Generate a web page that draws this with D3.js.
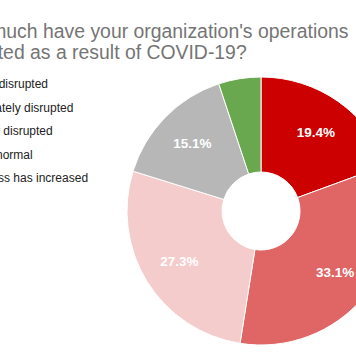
<!DOCTYPE html>
<html>
<head>
<meta charset="utf-8">
<script src="https://cdn.jsdelivr.net/npm/d3@7"></script>
<style>
  html, body { margin: 0; padding: 0; background: #fff; overflow: hidden; }
  svg { display: block; font-family: Arial, "Liberation Sans", sans-serif; }
</style>
</head>
<body>
<svg id="chart" width="356" height="364"></svg>
<script>
// ---- data ----
const titleLines = ["How much have your organization's operations", "impacted as a result of COVID-19?"];
const categories = ["Totally disrupted", "Moderately disrupted", "Slightly disrupted", "About normal", "Business has increased"];
const values = [19.4, 33.1, 27.3, 15.1, 5.1];
const colors = ["#cc0000", "#e06666", "#f4cccc", "#b7b7b7", "#6aa84f"];

// ---- layout ----
const W = 356, H = 364;
const cx = 261, cy = 211, outerR = 134, innerR = 39, labelR = 96;
const svg = d3.select("#chart");
svg.append("rect").attr("width", W).attr("height", H).attr("fill", "#fff");

// title (left aligned, partly outside the view as in the reference)
const titleX = -54;
const title = svg.append("text")
  .attr("x", titleX).attr("y", 38.3)
  .attr("fill", "#757575").attr("font-size", 19.4);
titleLines.forEach((t, i) => {
  title.append("tspan").attr("x", titleX).attr("y", 38.3 + i * 21).text(t);
});

// legend
const legendY = d3.scalePoint().domain(categories).range([88, 182]);
const legend = svg.append("g");
legend.selectAll("circle").data(categories).join("circle")
  .attr("cx", -44).attr("cy", d => legendY(d) - 4).attr("r", 5)
  .attr("fill", (d, i) => colors[i]);
legend.selectAll("text").data(categories).join("text")
  .attr("x", -38.7).attr("y", d => legendY(d))
  .attr("font-size", 12).attr("fill", "#222")
  .text(d => d);

// pie
const data = categories.map((c, i) => ({ cat: c, value: values[i], color: colors[i] }));
const pie = d3.pie().value(d => d.value).sort(null);
const arcs = pie(data);
const arc = d3.arc().innerRadius(innerR).outerRadius(outerR);
const labelArc = d3.arc().innerRadius(labelR).outerRadius(labelR);
const g = svg.append("g").attr("transform", `translate(${cx},${cy})`);
g.selectAll("path").data(arcs).join("path")
  .attr("d", arc)
  .attr("fill", d => d.data.color)
  .attr("stroke", "#fff").attr("stroke-width", 1);

const total = d3.sum(values);
g.selectAll("text").data(arcs.filter(d => d.data.value / total >= 0.08)).join("text")
  .attr("transform", d => `translate(${labelArc.centroid(d)})`)
  .attr("text-anchor", "middle")
  .attr("dy", "0.35em")
  .attr("font-size", 13.5).attr("font-weight", "bold")
  .attr("fill", "#fff")
  .text(d => d3.format(".1f")(d.data.value) + "%");
</script>
</body>
</html>
